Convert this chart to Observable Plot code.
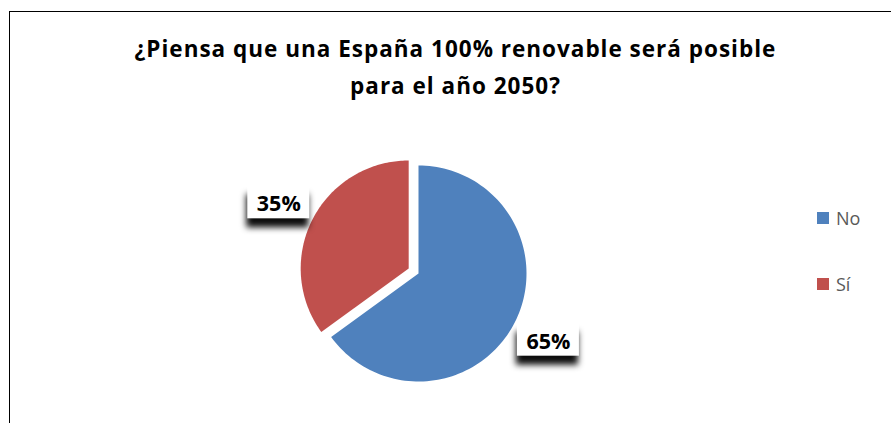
<!DOCTYPE html>
<html>
<head>
<meta charset="utf-8">
<script src="https://cdn.jsdelivr.net/npm/d3@7"></script>
<script src="https://cdn.jsdelivr.net/npm/@observablehq/plot@0.6"></script>
<style>
  html, body { margin: 0; padding: 0; background: #fff; }
  body { width: 891px; height: 423px; overflow: hidden; position: relative; font-family: "Open Sans", Lato, sans-serif; }
  #title { position: absolute; left: 0; top: 0; width: 891px; height: 120px; box-sizing: border-box;
           padding-left: 20px; padding-top: 30px; text-align: center; font-weight: bold; font-size: 22.5px;
           letter-spacing: 1px; line-height: 37px; color: #000; }
  #row { position: absolute; left: 0; top: 120px; width: 891px; height: 303px; display: flex; }
  #legend { width: 91px; height: 303px; box-sizing: border-box; padding-top: 64.5px; padding-left: 17px; }
  .item { height: 66px; display: flex; align-items: center; font-size: 18px; color: #595959; }
  .sw { width: 12px; height: 12px; margin-right: 7px; }
  #frame { position: absolute; left: 9px; top: 11px; width: 1000px; height: 1000px; border: 1.5px solid #000; pointer-events: none; }
</style>
</head>
<body>
<div id="title">¿Piensa que una España 100% renovable será posible<br>para el año 2050?</div>
<div id="row"><div id="chart"></div><div id="legend"></div></div>
<div id="frame"></div>
<script>
const categories = ["No", "Sí"];
const values = [65, 35];
const labels = ["65%", "35%"];
const colors = ["#4F81BD", "#C0504D"];

const W = 800, H = 303;
const cx = 418, cy = 153, R = 108;
const explodeIdx = 1, explodeDist = 11 / R, labelDist = 1.35;

const data = categories.map((c, i) => ({cat: c, value: values[i], label: labels[i]}));
const arcs = d3.pie().sort(null).value(d => d.value)(data);

const pts = [];
const lbls = [];
arcs.forEach((a, i) => {
  const mid = (a.startAngle + a.endAngle) / 2;
  const off = i === explodeIdx ? explodeDist : 0;
  const ox = off * Math.sin(mid), oy = -off * Math.cos(mid);
  pts.push({cat: a.data.cat, x: ox, y: oy});
  const n = 120;
  for (let k = 0; k <= n; k++) {
    const t = a.startAngle + (a.endAngle - a.startAngle) * k / n;
    pts.push({cat: a.data.cat, x: ox + Math.sin(t), y: oy - Math.cos(t)});
  }
  const lx = ox + labelDist * Math.sin(mid), ly = oy - labelDist * Math.cos(mid);
  const hw = 31 / R, hh = 16.5 / R;
  lbls.push({label: a.data.label, x: lx, y: ly, x1: lx - hw, x2: lx + hw, y1: ly - hh, y2: ly + hh});
});

const plot = Plot.plot({
  width: W, height: H,
  margin: 0, inset: 0,
  style: {background: "transparent", fontFamily: "'Open Sans', sans-serif"},
  x: {domain: [-cx / R, (W - cx) / R], range: [0, W], axis: null},
  y: {domain: [-cy / R, (H - cy) / R], range: [0, H], axis: null},
  color: {domain: categories, range: colors},
  marks: [
    Plot.line(pts, {x: "x", y: "y", z: "cat", fill: "cat", stroke: null, curve: "linear-closed"}),
    Plot.rect(lbls, {x1: "x1", x2: "x2", y1: "y1", y2: "y2", fill: "white"}),
    Plot.text(lbls, {x: "x", y: "y", dy: 2, text: "label", fontSize: 21.5, fontWeight: "bold", fill: "black", fontFamily: "'Open Sans', sans-serif"})
  ]
});
d3.select(plot).selectAll('g[aria-label="rect"] rect')
  .style("filter", "drop-shadow(-1px 9px 3px rgba(0,0,0,0.95))");
document.getElementById("chart").appendChild(plot);

const legend = d3.select("#legend");
categories.forEach((c, i) => {
  const it = legend.append("div").attr("class", "item");
  it.append("div").attr("class", "sw").style("background", colors[i]);
  it.append("span").text(c);
});
</script>
</body>
</html>
